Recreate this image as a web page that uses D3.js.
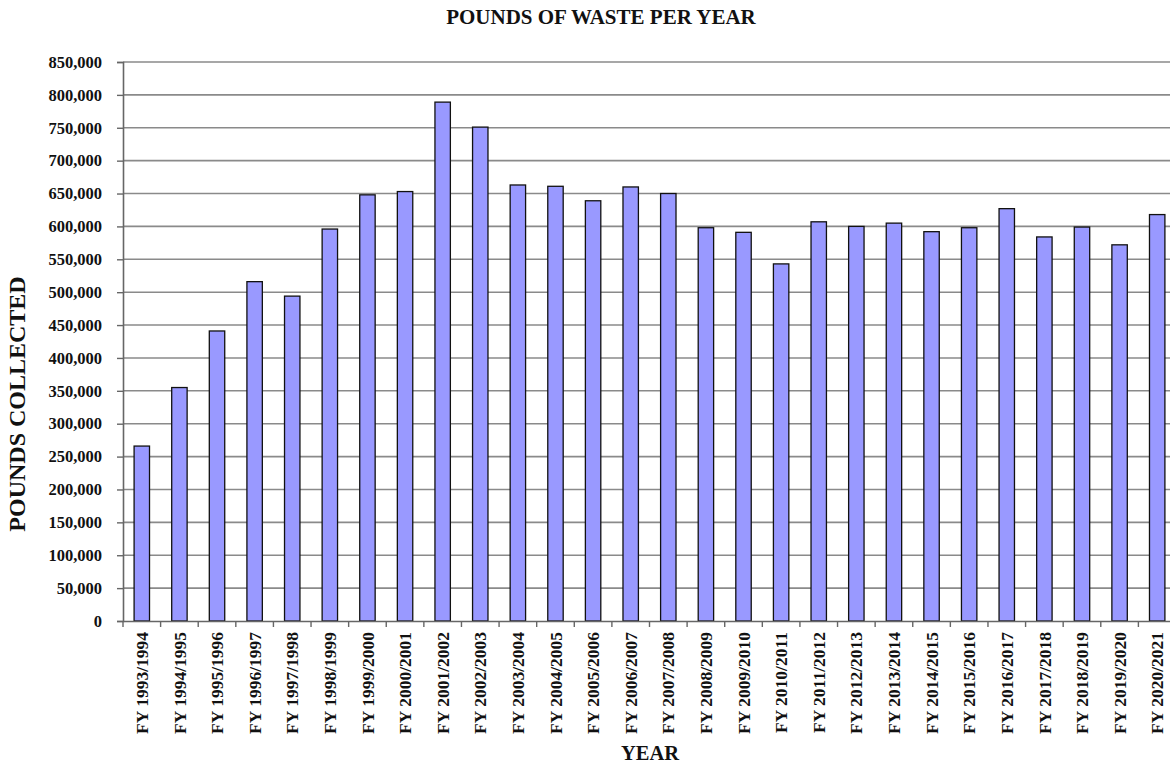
<!DOCTYPE html>
<html>
<head>
<meta charset="utf-8">
<script src="https://cdn.jsdelivr.net/npm/d3@7"></script>
<style>
  body { margin: 0; background: #fff; }
  text { font-family: "Liberation Serif", "Times New Roman", serif; font-weight: bold; fill: #111; }
</style>
</head>
<body>
<div id="chart"></div>
<script>
// Data
var years = ["FY 1993/1994", "FY 1994/1995", "FY 1995/1996", "FY 1996/1997", "FY 1997/1998",
             "FY 1998/1999", "FY 1999/2000", "FY 2000/2001", "FY 2001/2002", "FY 2002/2003",
             "FY 2003/2004", "FY 2004/2005", "FY 2005/2006", "FY 2006/2007", "FY 2007/2008",
             "FY 2008/2009", "FY 2009/2010", "FY 2010/2011", "FY 2011/2012", "FY 2012/2013",
             "FY 2013/2014", "FY 2014/2015", "FY 2015/2016", "FY 2016/2017", "FY 2017/2018",
             "FY 2018/2019", "FY 2019/2020", "FY 2020/2021"];
var pounds = [266000, 355000, 441000, 516000, 494000,
              596000, 648000, 653000, 789000, 751000,
              663000, 661000, 639000, 660000, 650000,
              598000, 591000, 543000, 607000, 600000,
              605000, 592000, 598000, 627000, 584000,
              599000, 572000, 618000];
var yTicks = d3.range(0, 850001, 50000);

// Chart dimensions (plot runs past the right edge, as in the original)
var W = 1170, H = 765;
var plotLeft = 123, plotRight = 1176, plotTop = 62, plotBottom = 621;

var svg = d3.select("#chart").append("svg")
    .attr("width", W)
    .attr("height", H);

var x = d3.scaleBand()
    .domain(years)
    .range([plotLeft, plotRight])
    .paddingInner(0)
    .paddingOuter(0);

var y = d3.scaleLinear()
    .domain([0, 850000])
    .range([plotBottom, plotTop]);

// gridlines
svg.append("g")
    .selectAll("line")
    .data(yTicks.filter(function(d) { return d > 0; }))
    .enter().append("line")
    .attr("x1", plotLeft).attr("x2", W)
    .attr("y1", function(d) { return y(d); })
    .attr("y2", function(d) { return y(d); })
    .attr("stroke", "#8a8a8a")
    .attr("stroke-width", 1.6);

// bars
var bw = x.bandwidth() * 0.41;
svg.append("g")
    .selectAll("rect")
    .data(years)
    .enter().append("rect")
    .attr("x", function(d) { return x(d) + (x.bandwidth() - bw) / 2; })
    .attr("y", function(d, i) { return y(pounds[i]); })
    .attr("width", bw)
    .attr("height", function(d, i) { return plotBottom - y(pounds[i]); })
    .attr("fill", "#9999ff")
    .attr("stroke", "#111")
    .attr("stroke-width", 1.3);

// y axis
var yAxis = svg.append("g")
    .attr("transform", "translate(" + plotLeft + ",0)")
    .call(d3.axisLeft(y).tickValues(yTicks).tickSize(6).tickPadding(15)
        .tickFormat(d3.format(",")));
yAxis.select(".domain").attr("stroke", "#666").attr("stroke-width", 1.6);
yAxis.selectAll(".tick line").attr("stroke", "#666").attr("stroke-width", 1.4);
yAxis.selectAll(".tick text")
    .style("font-size", "16.5px")
    .style("font-family", "Liberation Serif, serif")
    .style("font-weight", "bold")
    .attr("fill", "#111");

// x axis
var xAxis = svg.append("g")
    .attr("transform", "translate(0," + plotBottom + ")")
    .call(d3.axisBottom(x).tickSize(0).tickPadding(0));
xAxis.select(".domain").attr("stroke", "#666").attr("stroke-width", 1.6);
xAxis.selectAll(".tick text")
    .style("font-size", "17.5px")
    .style("font-family", "Liberation Serif, serif")
    .style("font-weight", "bold")
    .attr("fill", "#111")
    .attr("text-anchor", "end")
    .attr("transform", "rotate(-90)")
    .attr("x", -11)
    .attr("y", 0)
    .attr("dy", "0.35em");

// x tick marks on band boundaries
svg.append("g")
    .selectAll("line")
    .data(years)
    .enter().append("line")
    .attr("x1", function(d) { return x(d); })
    .attr("x2", function(d) { return x(d); })
    .attr("y1", plotBottom).attr("y2", plotBottom + 6)
    .attr("stroke", "#666")
    .attr("stroke-width", 1.4);

// titles
svg.append("text")
    .attr("x", 601).attr("y", 24)
    .attr("text-anchor", "middle")
    .style("font-size", "21px")
    .text("POUNDS OF WASTE PER YEAR");

svg.append("text")
    .attr("transform", "translate(25,404) rotate(-90)")
    .attr("text-anchor", "middle")
    .style("font-size", "24px")
    .text("POUNDS COLLECTED");

svg.append("text")
    .attr("x", 650).attr("y", 760)
    .attr("text-anchor", "middle")
    .style("font-size", "20.5px")
    .text("YEAR");
</script>
</body>
</html>
